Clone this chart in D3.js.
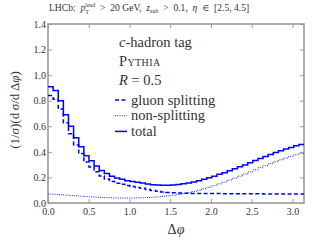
<!DOCTYPE html>
<html>
<head>
<meta charset="utf-8">
<script src="https://cdn.jsdelivr.net/npm/d3@7"></script>
<style>
body { margin: 0; background: #fff; }
svg { display: block; }
text { font-family: "Liberation Serif", "DejaVu Serif", serif; fill: #333; }
</style>
</head>
<body>
<svg width="320" height="240"></svg>
<script>
// histogram contents, 50 equal bins over [0, pi]
var nBins = 50;
var gluonSplitting = [0.840, 0.812, 0.735, 0.628, 0.541, 0.454, 0.387, 0.320, 0.282, 0.244,
    0.211, 0.188, 0.169, 0.155, 0.146, 0.136, 0.129, 0.122, 0.116, 0.105,
    0.098, 0.092, 0.087, 0.083, 0.080, 0.078, 0.077, 0.076, 0.075, 0.075,
    0.075, 0.074, 0.074, 0.074, 0.073, 0.073, 0.073, 0.073, 0.072, 0.072,
    0.072, 0.072, 0.071, 0.071, 0.071, 0.071, 0.070, 0.070, 0.070, 0.070];
var nonSplitting = [0.070, 0.068, 0.065, 0.062, 0.059, 0.056, 0.053, 0.050, 0.048, 0.046,
    0.044, 0.042, 0.041, 0.040, 0.039, 0.039, 0.039, 0.040, 0.041, 0.043,
    0.045, 0.048, 0.052, 0.056, 0.061, 0.067, 0.073, 0.080, 0.090, 0.100,
    0.111, 0.123, 0.136, 0.150, 0.164, 0.179, 0.194, 0.210, 0.226, 0.243,
    0.260, 0.276, 0.292, 0.308, 0.323, 0.338, 0.352, 0.365, 0.377, 0.388];
var total = [0.910, 0.880, 0.800, 0.690, 0.600, 0.510, 0.440, 0.370, 0.330, 0.290,
    0.255, 0.230, 0.210, 0.195, 0.185, 0.175, 0.168, 0.162, 0.157, 0.148,
    0.143, 0.140, 0.139, 0.139, 0.141, 0.145, 0.150, 0.156, 0.165, 0.175,
    0.186, 0.197, 0.210, 0.224, 0.237, 0.252, 0.267, 0.283, 0.298, 0.315,
    0.332, 0.348, 0.363, 0.379, 0.394, 0.409, 0.422, 0.435, 0.447, 0.458];
var xTicks = [0.0, 0.5, 1.0, 1.5, 2.0, 2.5, 3.0];
var yTicks = [0.0, 0.2, 0.4, 0.6, 0.8, 1.0, 1.2, 1.4];

var svg = d3.select("svg");
var pl = 48, pr = 304, pt = 24, pb = 203;

var x = d3.scaleLinear().domain([0, Math.PI]).range([pl, pr]);
var y = d3.scaleLinear().domain([0, 1.4]).range([pb, pt]);

var binW = Math.PI / nBins;
function stepPoints(vals) {
    var pts = vals.map(function(v, i) { return [i * binW, v]; });
    pts.push([Math.PI, vals[vals.length - 1]]);
    return pts;
}
var line = d3.line()
    .x(function(d) { return x(d[0]); })
    .y(function(d) { return y(d[1]); })
    .curve(d3.curveStepAfter);

// frame + inward ticks on all sides
var axisCol = "#9a9a9a";
function styleAxis(g, labels) {
    g.select(".domain").remove();
    g.selectAll(".tick line").attr("stroke", axisCol).attr("stroke-width", 1);
    g.selectAll(".tick text").attr("fill", "#555").attr("font-size", 10)
        .attr("font-family", "Liberation Serif, serif");
    if (!labels) g.selectAll(".tick text").remove();
}
svg.append("g").attr("transform", "translate(0," + pb + ")")
    .call(d3.axisBottom(x).tickValues(xTicks).tickFormat(d3.format(".1f")).tickSize(-4).tickPadding(5))
    .call(function(g) { styleAxis(g, true); });
svg.append("g").attr("transform", "translate(0," + pt + ")")
    .call(d3.axisTop(x).tickValues(xTicks).tickSize(-4))
    .call(function(g) { styleAxis(g, false); });
svg.append("g").attr("transform", "translate(" + pl + ",0)")
    .call(d3.axisLeft(y).tickValues(yTicks).tickFormat(d3.format(".1f")).tickSize(-4).tickPadding(2))
    .call(function(g) { styleAxis(g, true); });
svg.append("g").attr("transform", "translate(" + pr + ",0)")
    .call(d3.axisRight(y).tickValues(yTicks).tickSize(-4))
    .call(function(g) { styleAxis(g, false); });
svg.append("rect")
    .attr("x", pl).attr("y", pt)
    .attr("width", pr - pl).attr("height", pb - pt)
    .attr("fill", "none").attr("stroke", axisCol).attr("stroke-width", 1.6);

// histograms
svg.append("path").datum(stepPoints(nonSplitting)).attr("d", line)
    .attr("fill", "none").attr("stroke", "#2222ff").attr("stroke-width", 1)
    .attr("stroke-dasharray", "1,1.3");
svg.append("path").datum(stepPoints(gluonSplitting)).attr("d", line)
    .attr("fill", "none").attr("stroke", "#0000ff").attr("stroke-width", 1.5)
    .attr("stroke-dasharray", "4,2.5");
svg.append("path").datum(stepPoints(total)).attr("d", line)
    .attr("fill", "none").attr("stroke", "#0000ff").attr("stroke-width", 1.5);

// lay out runs of text with sub/superscripts
function runs(x0, y0, list, base) {
    var cx = x0, prevX = x0, prevW = 0;
    list.forEach(function(r) {
        var t = svg.append("text")
            .attr("y", y0 + (r.dy || 0))
            .attr("font-size", r.size || base)
            .attr("font-style", r.it ? "italic" : null)
            .text(r.t);
        var xx = r.stack ? prevX : cx;
        t.attr("x", xx);
        var w = t.node().getComputedTextLength();
        if (r.stack) { cx = prevX + Math.max(prevW, w); }
        else { prevX = xx; prevW = w; cx = xx + w; }
    });
}

runs(49, 11, [
    {t: "LHCb:\u2002"},
    {t: "p", it: true},
    {t: "lead", size: 6, dy: -3.8},
    {t: "T", size: 6, dy: 2.6, stack: true},
    {t: "\u2002>\u200220 GeV,\u2002"},
    {t: "z", it: true},
    {t: "sub", size: 6, dy: 2},
    {t: "\u2002>\u20020.1,\u2002"},
    {t: "\u03b7", it: true},
    {t: "\u2002\u2208\u2002[2.5, 4.5]"}
], 9.6);

// legend
var lx = 119, fs = 14.5;
var t1 = svg.append("text").attr("x", lx).attr("y", 47).attr("font-size", fs);
t1.append("tspan").attr("font-style", "italic").text("c");
t1.append("tspan").text("-hadron tag");
svg.append("text").attr("x", lx).attr("y", 66).attr("font-size", fs)
    .attr("font-variant", "small-caps").attr("letter-spacing", 0.4).text("Pythia");
var t3 = svg.append("text").attr("x", lx).attr("y", 85).attr("font-size", fs);
t3.append("tspan").attr("font-style", "italic").text("R");
t3.append("tspan").text(" = 0.5");

var legend = [
    {label: "gluon splitting", dash: "4,2.5", w: 1.5, col: "#0000ff"},
    {label: "non-splitting", dash: "1,1.3", w: 1, col: "#2222ff"},
    {label: "total", dash: null, w: 1.5, col: "#0000ff"}
];
legend.forEach(function(d, i) {
    var ly = 100 + i * 15.7;
    svg.append("line").attr("x1", 115).attr("x2", 127).attr("y1", ly).attr("y2", ly)
        .attr("stroke", d.col).attr("stroke-width", d.w).attr("stroke-dasharray", d.dash);
    svg.append("text").attr("x", 131).attr("y", ly + 4.5).attr("font-size", fs).text(d.label);
});

// axis titles
var yl = svg.append("text").attr("transform", "translate(19,110) rotate(-90)")
    .attr("text-anchor", "middle").attr("font-size", 13);
yl.append("tspan").text("(1/");
yl.append("tspan").attr("font-style", "italic").text("\u03c3");
yl.append("tspan").text(")(d\u2009");
yl.append("tspan").attr("font-style", "italic").text("\u03c3");
yl.append("tspan").text("/d\u2009\u0394");
yl.append("tspan").attr("font-style", "italic").text("\u03c6");
yl.append("tspan").text(")");

var xl = svg.append("text").attr("x", 176).attr("y", 234)
    .attr("text-anchor", "middle").attr("font-size", 14);
xl.append("tspan").text("\u0394");
xl.append("tspan").attr("font-style", "italic").text("\u03c6");
</script>
</body>
</html>
